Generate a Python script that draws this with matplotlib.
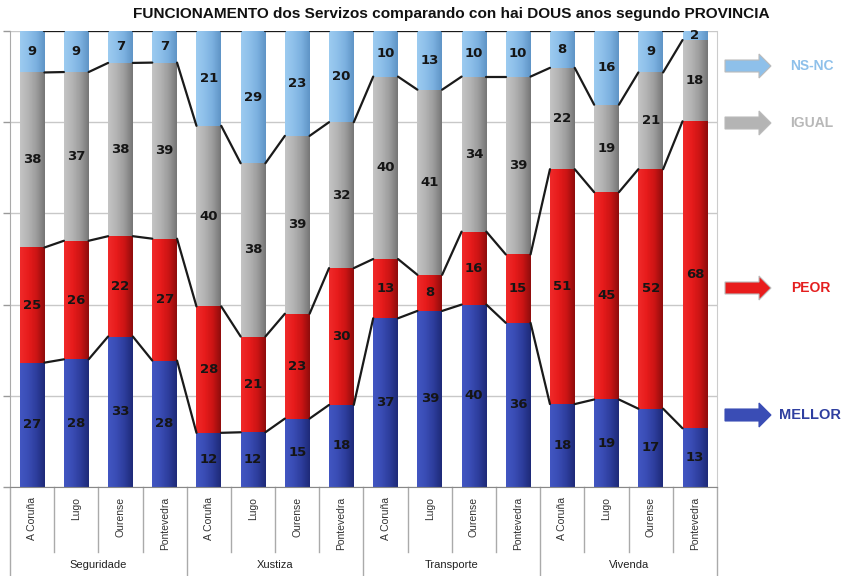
import numpy as np
import matplotlib
matplotlib.use("Agg")
import matplotlib.pyplot as plt
from matplotlib.colors import LinearSegmentedColormap
from matplotlib.patches import FancyArrow

plt.rcParams['font.family'] = ['Liberation Sans', 'DejaVu Sans']

groups = ["Seguridade", "Xustiza", "Transporte", "Vivenda"]
provinces = ["A Coruña", "Lugo", "Ourense", "Pontevedra"]
series_names = ["MELLOR", "PEOR", "IGUAL", "NS-NC"]
mellor = [27, 28, 33, 28, 12, 12, 15, 18, 37, 39, 40, 36, 18, 19, 17, 13]
peor = [25, 26, 22, 27, 28, 21, 23, 30, 13, 8, 16, 15, 51, 45, 52, 68]
igual = [38, 37, 38, 39, 40, 38, 39, 32, 40, 41, 34, 39, 22, 19, 21, 18]
nsnc = [9, 9, 7, 7, 21, 29, 23, 20, 10, 13, 10, 10, 8, 16, 9, 2]

grad_colors = {
    "MELLOR": ["#4256c2", "#3a4db5", "#2d3d9c", "#1e2a78"],
    "PEOR": ["#f02a2a", "#e81c1c", "#cc1414", "#8e0c0c"],
    "IGUAL": ["#c4c4c4", "#b4b4b4", "#9c9c9c", "#767676"],
    "NS-NC": ["#9ccbf0", "#8ec0ea", "#7bb0df", "#5f94c6"],
}
legend_text_colors = {"MELLOR": "#2f3fa0", "PEOR": "#e41e1e",
                      "IGUAL": "#b8b8b8", "NS-NC": "#8ec0ea"}

W, H = 845, 576
fig = plt.figure(figsize=(W / 100, H / 100), dpi=100)
L, R, T, B = 10, 717, 31, 487
ax = fig.add_axes([L / W, 1 - B / H, (R - L) / W, (B - T) / H])

n = len(mellor)
x = np.arange(n)
bw = 0.56
data = [mellor, peor, igual, nsnc]
totals = np.sum(np.array(data, dtype=float), axis=0)
ymax = 100

# 100% stacked
bottom = np.zeros(n)
tops = []
for name, vals in zip(series_names, data):
    vals = np.array(vals, dtype=float)
    share = vals / totals * 100
    cmap = LinearSegmentedColormap.from_list(name, grad_colors[name])
    grad = np.linspace(0, 1, 64).reshape(1, -1)
    for i in range(n):
        y0 = bottom[i]
        y1 = bottom[i] + share[i]
        ax.imshow(grad, cmap=cmap, extent=[x[i] - bw / 2, x[i] + bw / 2, y0, y1],
                  aspect='auto', zorder=2, interpolation='bicubic')
        ax.text(x[i], (y0 + y1) / 2, f"{int(vals[i])}", ha='center', va='center',
                fontsize=9.5, fontweight='bold', color='#151515', zorder=5,
                family='DejaVu Sans')
    bottom = bottom + share
    tops.append(bottom.copy())

# series lines
for tp in tops:
    for i in range(n - 1):
        ax.plot([x[i] + bw / 2, x[i + 1] - bw / 2], [tp[i], tp[i + 1]],
                color='#1a1a1a', lw=1.6, zorder=3, solid_capstyle='round')

ax.set_xlim(-0.5, n - 0.5)
ax.set_ylim(0, ymax)
ax.set_yticks(np.arange(0, 101, 20))
ax.set_yticklabels([])
ax.grid(axis='y', color='#c8c8c8', lw=1.0, zorder=0)
ax.set_axisbelow(True)
ax.set_xticks([])
ax.tick_params(axis='y', length=5, color='#999999', width=1.0)
ax.spines['top'].set_visible(False)
ax.spines['left'].set_color('#aaaaaa')
ax.spines['right'].set_color('#cccccc')
ax.spines['bottom'].set_color('#888888')

# category table below
axh = B - T
inner_low = -(552 - B) / axh
group_low = -(576 - B) / axh
trans = ax.get_xaxis_transform()
for k in range(n + 1):
    xb = k - 0.5
    low = group_low if k % 4 == 0 else inner_low
    ax.plot([xb, xb], [0, low], transform=trans, color='#aaaaaa', lw=1.0,
            clip_on=False)
for i in range(n):
    ax.text(x[i], -(497 - B) / axh, provinces[i % 4], transform=trans,
            rotation=90, ha='center', va='top', fontsize=7.5, color='#333333')
for g, name in enumerate(groups):
    ax.text(g * 4 + 1.5, -(565 - B) / axh, name, transform=trans,
            ha='center', va='center', fontsize=8, color='#222222')

# title
fig.text(451 / W, 1 - 14 / H,
         "FUNCIONAMENTO dos Servizos comparando con hai DOUS anos segundo PROVINCIA",
         ha='center', va='center', fontsize=11.1, fontweight='bold', color='#111111')

# legend arrows (overlay in pixel coords)
ov = fig.add_axes([0, 0, 1, 1], facecolor='none')
ov.set_xlim(0, W)
ov.set_ylim(H, 0)
ov.axis('off')
legend_pos = {"NS-NC": (66, 790, 10), "IGUAL": (123, 790, 10),
              "PEOR": (288, 791, 10), "MELLOR": (415, 779, 10.5)}
for name, (yc, tx, fs) in legend_pos.items():
    col = grad_colors[name][1]
    arr = FancyArrow(725, yc, 46, 0, width=12, head_width=24, head_length=12,
                     length_includes_head=True, facecolor=col,
                     edgecolor='#bbbbbb' if name != "MELLOR" else col, lw=0.8)
    ov.add_patch(arr)
    ov.text(tx, yc, name, ha='left', va='center', fontsize=fs,
            fontweight='bold', color=legend_text_colors[name])

fig.savefig("out.png", dpi=100)
